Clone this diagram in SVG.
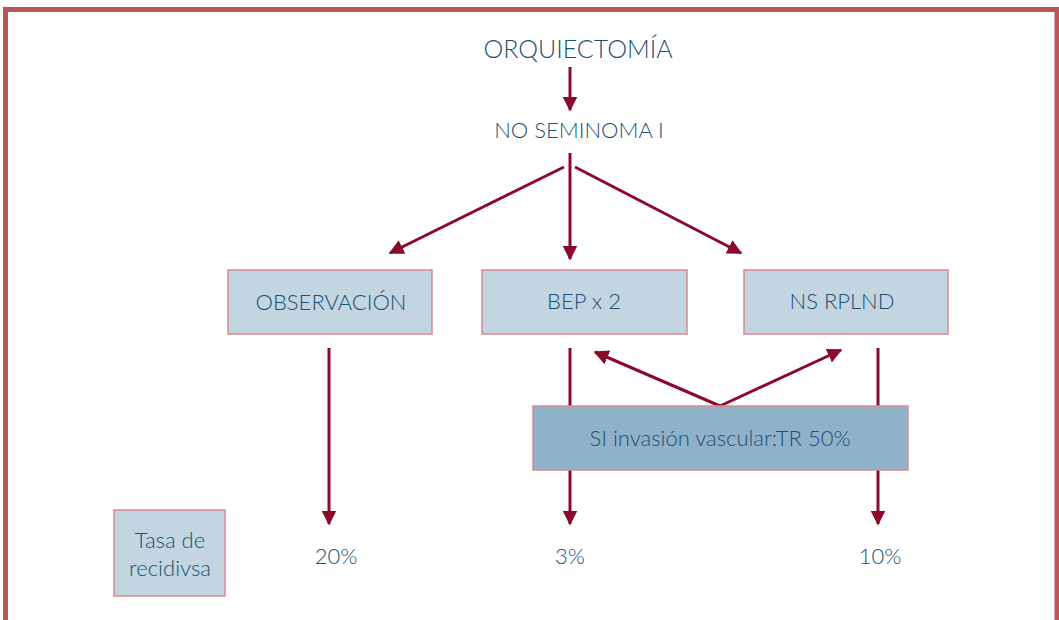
<svg xmlns="http://www.w3.org/2000/svg" width="1059" height="620" viewBox="0 0 1059 620">
<defs>
<style>
.t{font-family:"Lato","Liberation Sans",sans-serif;font-weight:300;fill:#1b5072;text-anchor:middle;font-size:22px}
.box{fill:#c2d5e1;stroke:#d98a8c;stroke-width:1.5}
.box2{fill:#8fb1c9;stroke:#d98a8c;stroke-width:1.5}
.c{stroke:#8b0a2c;stroke-width:3;fill:none}
</style>
<marker id="ah" viewBox="0 0 10 10" refX="9" refY="5" markerWidth="5" markerHeight="5" orient="auto" markerUnits="strokeWidth">
<path d="M0,0 L10,5 L0,10 z" fill="#8b0a2c"/>
</marker>
</defs>
<rect width="1059" height="620" fill="#ffffff"/>
<path d="M5.5,625 V9.5 H1057 V625" fill="none" stroke="#b85558" stroke-width="5"/>
<g id="connectors">
<line class="c" x1="570" y1="67" x2="570" y2="110" marker-end="url(#ah)"/>
<line class="c" x1="570" y1="153" x2="570" y2="259" marker-end="url(#ah)"/>
<line class="c" x1="564" y1="167" x2="390" y2="253" marker-end="url(#ah)"/>
<line class="c" x1="575" y1="167" x2="741" y2="253" marker-end="url(#ah)"/>
<line class="c" x1="329" y1="348" x2="329" y2="524" marker-end="url(#ah)"/>
<line class="c" x1="570" y1="348" x2="570" y2="524" marker-end="url(#ah)"/>
<line class="c" x1="878" y1="348" x2="878" y2="524" marker-end="url(#ah)"/>
<line class="c" x1="720" y1="406" x2="595" y2="352" marker-end="url(#ah)"/>
<line class="c" x1="720" y1="406" x2="841" y2="350" marker-end="url(#ah)"/>
</g>
<g id="orquiectomia"><text class="t" x="578" y="58" style="font-size:25px">ORQUIECTOMÍA</text></g>
<g id="noseminoma"><text class="t" x="579" y="138">NO SEMINOMA I</text></g>
<g id="observacion"><rect class="box" x="228" y="270" width="204" height="64"/><text class="t" x="331" y="310">OBSERVACIÓN</text></g>
<g id="bep"><rect class="box" x="482" y="270" width="205" height="64"/><text class="t" x="584" y="309">BEP x 2</text></g>
<g id="nsrplnd"><rect class="box" x="744" y="270" width="204" height="64"/><text class="t" x="842" y="309">NS RPLND</text></g>
<g id="si"><rect class="box2" x="533" y="406" width="375" height="64"/><text class="t" x="720" y="446">SI invasión vascular:TR 50%</text></g>
<g id="tasa"><rect class="box" x="114" y="510" width="111" height="86"/><text class="t" x="170" y="548">Tasa de</text><text class="t" x="170" y="576">recidivsa</text></g>
<g id="p20"><text class="t" x="336" y="564">20%</text></g>
<g id="p3"><text class="t" x="570" y="564">3%</text></g>
<g id="p10"><text class="t" x="880" y="564">10%</text></g>
</svg>
